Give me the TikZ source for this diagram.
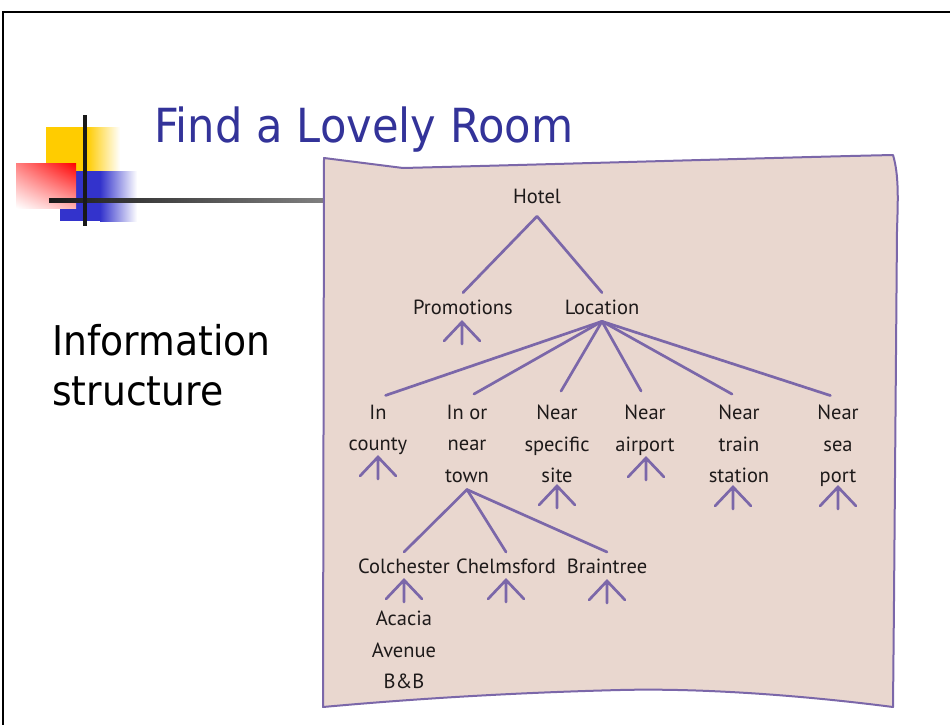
\documentclass[tikz,border=0pt]{standalone}
\usepackage{fontspec}
\setmainfont{DejaVu Sans}[FakeStretch=0.92]
\newfontfamily\handfont{PT Sans}
\usetikzlibrary{calc,shadings}
\definecolor{slideblue}{HTML}{333399}
\definecolor{lilac}{HTML}{7B67A9}
\definecolor{paper}{HTML}{E9D7CF}
\definecolor{ink}{HTML}{1E1A1A}
\definecolor{sunny}{HTML}{FFCC00}
\definecolor{deepblue}{HTML}{3333CC}

\begin{document}
\begin{tikzpicture}[x=1pt,y=-1pt,
  lbl/.style={font=\handfont\fontsize{20.5}{31.5}\selectfont,text=ink,align=center,inner sep=0pt,outer ysep=7pt},
  branch/.style={draw=lilac,line width=2.7pt,line cap=round},
  more/.pic={\draw[branch] (0,0) -- (0,22) (-18,19) -- (0,0) -- (18,19);}]
\useasboundingbox (0,0) rectangle (950,725);
\clip (0,0) rectangle (950,725);
\draw[line width=2.5pt] (3,12) rectangle (965,740);
% corner logo
\fill[sunny] (46,127) rectangle (87,200);
\shade[left color=sunny,right color=white] (87,127) rectangle (120,200);
\fill[deepblue] (60,171) rectangle (100,221);
\shade[left color=deepblue,right color=white] (100,171) rectangle (137,221);
\shade[upper right=red,upper left=red!50,lower left=white,lower right=red!30] (16,163) rectangle (76,208);
\shade[left color=black!90,right color=black!50] (49,198) rectangle (323,202);
\draw[line width=4pt,black!90] (85,115) -- (85,226);
\node[font=\fontsize{47}{50}\selectfont,text=slideblue,anchor=base west,inner sep=0pt] (title) at (154,142) {Find a Lovely Room};
\node[font=\fontsize{41}{50}\selectfont,anchor=north west,align=left,inner sep=0pt] (info) at (52,324) {Information\\structure};
% the sheet
\filldraw[fill=paper,draw=lilac,line width=2pt,line join=round]
  (324,158) -- (403,168) .. controls (600,163) and (800,157) .. (893,155)
  .. controls (899,175) and (898,200) .. (897,230) -- (894,600) -- (893,707)
  .. controls (800,695) and (700,688) .. (620,690)
  .. controls (500,693) and (400,700) .. (323,707) -- cycle;
\node[lbl,outer ysep=13pt] (ht) at (537,196) {Hotel};
\node[lbl] (pr) at (463,307) {Promotions};
\node[lbl] (lo) at (602,307) {Location};
\node[lbl,anchor=north] (c1) at (378,398) {In\\county};
\node[lbl,anchor=north] (c2) at (467,398) {In or\\near\\town};
\node[lbl,anchor=north] (c3) at (557,398) {Near\\specific\\site};
\node[lbl,anchor=north] (c4) at (645,398) {Near\\airport};
\node[lbl,anchor=north] (c5) at (739,398) {Near\\train\\station};
\node[lbl,anchor=north] (c6) at (838,398) {Near\\sea\\port};
\node[lbl,anchor=north] (t1) at (404,552) {Colchester};
\node[lbl,anchor=north] (t2) at (506,552) {Chelmsford};
\node[lbl,anchor=north] (t3) at (607,552) {Braintree};
\node[lbl,anchor=north] (aa) at (404,604) {Acacia\\Avenue\\B\&B};
\draw[branch] (ht.south) -- (pr.north)
              (ht.south) -- (lo.north);
\foreach \n in {c1,c2,c3,c4,c5,c6}
  \draw[branch,shorten >=8pt] (lo.south) -- (\n.north);
\foreach \n in {t1,t2,t3}
  \draw[branch] (c2.south) -- (\n.north);
\pic at (462,322) {more};
\pic at (378,457) {more};
\pic at (557,486) {more};
\pic at (646,458) {more};
\pic at (733,487) {more};
\pic at (838,487) {more};
\pic at (404,580) {more};
\pic at (506,580) {more};
\pic at (607,581) {more};
\end{tikzpicture}
\end{document}
